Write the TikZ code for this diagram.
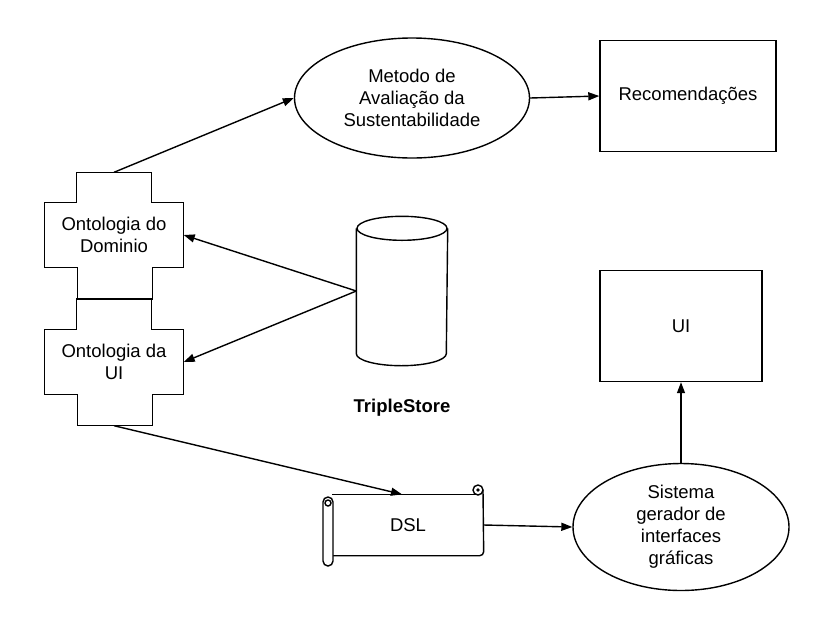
\documentclass[tikz,border=0pt]{standalone}
\usepackage{fontspec}
\setmainfont{Liberation Sans}
\usetikzlibrary{arrows.meta,positioning,calc,shapes.geometric}

\begin{document}
\begin{tikzpicture}[
  x=1pt, y=-1pt,
  line width=1.4pt,
  every node/.style={font=\fontsize{18.5}{22}\selectfont, align=center, inner sep=0pt},
  proc/.style={ellipse, draw},
  box/.style={rectangle, draw, minimum width=176pt, minimum height=111pt},
  onto/.style={rectangle, minimum width=138pt, minimum height=64pt},
  store/.style={rectangle, minimum width=90pt, minimum height=148pt},
  >={Triangle[length=11pt,width=8pt]}
]
  \useasboundingbox (0,0) rectangle (832,622);

  \node[proc, minimum width=235pt, minimum height=120pt] (metodo) at (412,98)
    {Metodo de\\Avaliação da\\Sustentabilidade};
  \node[box] (recom) at (688,96) {Recomendações};
  \node[box, minimum width=162pt] (ui) at (681,326) {UI};
  \node[proc, minimum width=216pt, minimum height=127pt] (sis) at (681,527)
    {Sistema\\gerador de\\interfaces\\gráficas};

  \node[onto] (dom) at (114,235) {Ontologia do\\Dominio};
  \node[onto] (uio) at (114,362) {Ontologia da\\UI};
  \coordinate (domtop) at ($(dom.north)+(0,-30)$);
  \coordinate (uiobot) at ($(uio.south)+(0,31)$);

  \node[store] (ts) at (402,291) {};
  \node[font=\fontsize{18.5}{22}\selectfont\bfseries] (tslabel) at (402,408) {TripleStore};

  \node[rectangle, minimum width=150pt, minimum height=60pt] (dsl) at (408,525) {DSL};

  % Ontology crosses
  \draw (dom.north west) -- ++(32,0) -- ++(0,-30) -- ++(75,0) -- ++(0,30)
    -- (dom.north east) -- (dom.south east) -- ++(-31,0) -- ++(0,32)
    -- ++(-75,0) -- ++(0,-32) -- (dom.south west) -- cycle;
  \draw (uio.north west) -- ++(32,0) -- ++(0,-31) -- ++(75,0) -- ++(0,31)
    -- (uio.north east) -- (uio.south east) -- ++(-31,0) -- ++(0,31)
    -- ++(-75,0) -- ++(0,-31) -- (uio.south west) -- cycle;

  % Store cylinder
  \draw ($(ts.north)+(0,12)$) ellipse (45pt and 12pt);
  \draw ($(ts.north west)+(0,12)$) -- ($(ts.south west)+(0,-12)$)
    arc[start angle=180, end angle=360, x radius=45pt, y radius=12pt]
    -- ($(ts.north east)+(0,12)$);

  % Scroll
  \draw (dsl.north west) -- ++(145,0);
  \draw (478,490) circle (5pt);
  \fill (478,490) circle (1.8pt);
  \draw[rounded corners=4pt] (483,490) -- (dsl.south east) -- (dsl.south west);
  \draw[rounded corners=5pt, fill=white] (323,497) rectangle (333,566);
  \draw (328,503) circle (3pt);

  % Connectors
  \draw[->] (domtop) -- (metodo.west);
  \draw[->] (metodo.east) -- (recom.west);
  \draw[->] (ts.west) -- (dom.east);
  \draw[->] (ts.west) -- (uio.east);
  \draw[->] (uiobot) -- ($(dsl.north)+(-6,0)$);
  \draw[->] (dsl.east) -- (sis.west);
  \draw[->] (sis.north) -- (ui.south);
\end{tikzpicture}
\end{document}
